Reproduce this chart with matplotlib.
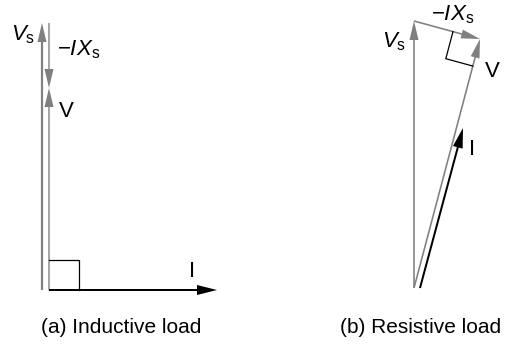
import numpy as np
import matplotlib
matplotlib.use("Agg")
import matplotlib.pyplot as plt

plt.rcParams["font.family"] = "Liberation Sans"
plt.rcParams["mathtext.fontset"] = "custom"
plt.rcParams["mathtext.rm"] = "Liberation Sans"
plt.rcParams["mathtext.it"] = "Liberation Sans:italic"

# phasors (x, y) in drawing units
vs_a = np.array([0, 267])
v_a = np.array([0, 202])
i_a = np.array([168, 0])

vs_b = np.array([0, 267])
v_b = np.array([66, 249])
i_b = np.array([43, 160])

captions = ["(a) Inductive load", "(b) Resistive load"]

GRAY = "#808080"

fig = plt.figure(figsize=(5.26, 3.49), dpi=100)
ax = fig.add_axes([0, 0, 1, 1])
ax.set_xlim(0, 526)
ax.set_ylim(0, 349)
ax.axis("off")


def phasor(start, vec, color=GRAY, w=1.6, hw=9, hl=19):
    ax.arrow(start[0], start[1], vec[0], vec[1], width=w, head_width=hw,
             head_length=hl, length_includes_head=True, fc=color, ec="none")


def right_angle(corner, d1, d2, size):
    u1 = d1 / np.linalg.norm(d1) * size
    u2 = d2 / np.linalg.norm(d2) * size
    pts = np.array([corner + u1, corner + u1 + u2, corner + u2])
    ax.plot(pts[:, 0], pts[:, 1], color="black", lw=0.9)


# (a) inductive load
o_a = np.array([49, 59])
phasor(o_a + [-7, 0], vs_a, w=2.2)
phasor(o_a + vs_a, v_a - vs_a, w=1.4)
phasor(o_a, v_a, w=1.4)
phasor(o_a, i_a, color="black", w=2.0, hw=10, hl=20)
right_angle(o_a, v_a, i_a, 30)

ax.text(11, 309, r"$V_{\mathrm{s}}$", fontsize=16, va="baseline")
ax.text(57, 294, r"$-IX_{\mathrm{s}}$", fontsize=16, va="baseline")
ax.text(59, 232, "V", fontsize=16, va="baseline")
ax.text(189, 72, "I", fontsize=16, va="baseline")

# (b) resistive load
o_b = np.array([414, 61])
phasor(o_b, vs_b)
phasor(o_b + vs_b, v_b - vs_b)
phasor(o_b, v_b)
phasor(o_b + [6, 0], i_b, color="black", w=2.0, hw=10, hl=20)
right_angle(o_b + v_b, -v_b, vs_b - v_b, 28)

ax.text(382, 302, r"$V_{\mathrm{s}}$", fontsize=16, va="baseline")
ax.text(431, 329, r"$-IX_{\mathrm{s}}$", fontsize=16, va="baseline")
ax.text(485, 272, "V", fontsize=16, va="baseline")
ax.text(469, 194, "I", fontsize=16, va="baseline")

ax.text(121, 16, captions[0], fontsize=15, ha="center", va="baseline")
ax.text(421, 16, captions[1], fontsize=15, ha="center", va="baseline")

fig.savefig("out.png", dpi=100)
